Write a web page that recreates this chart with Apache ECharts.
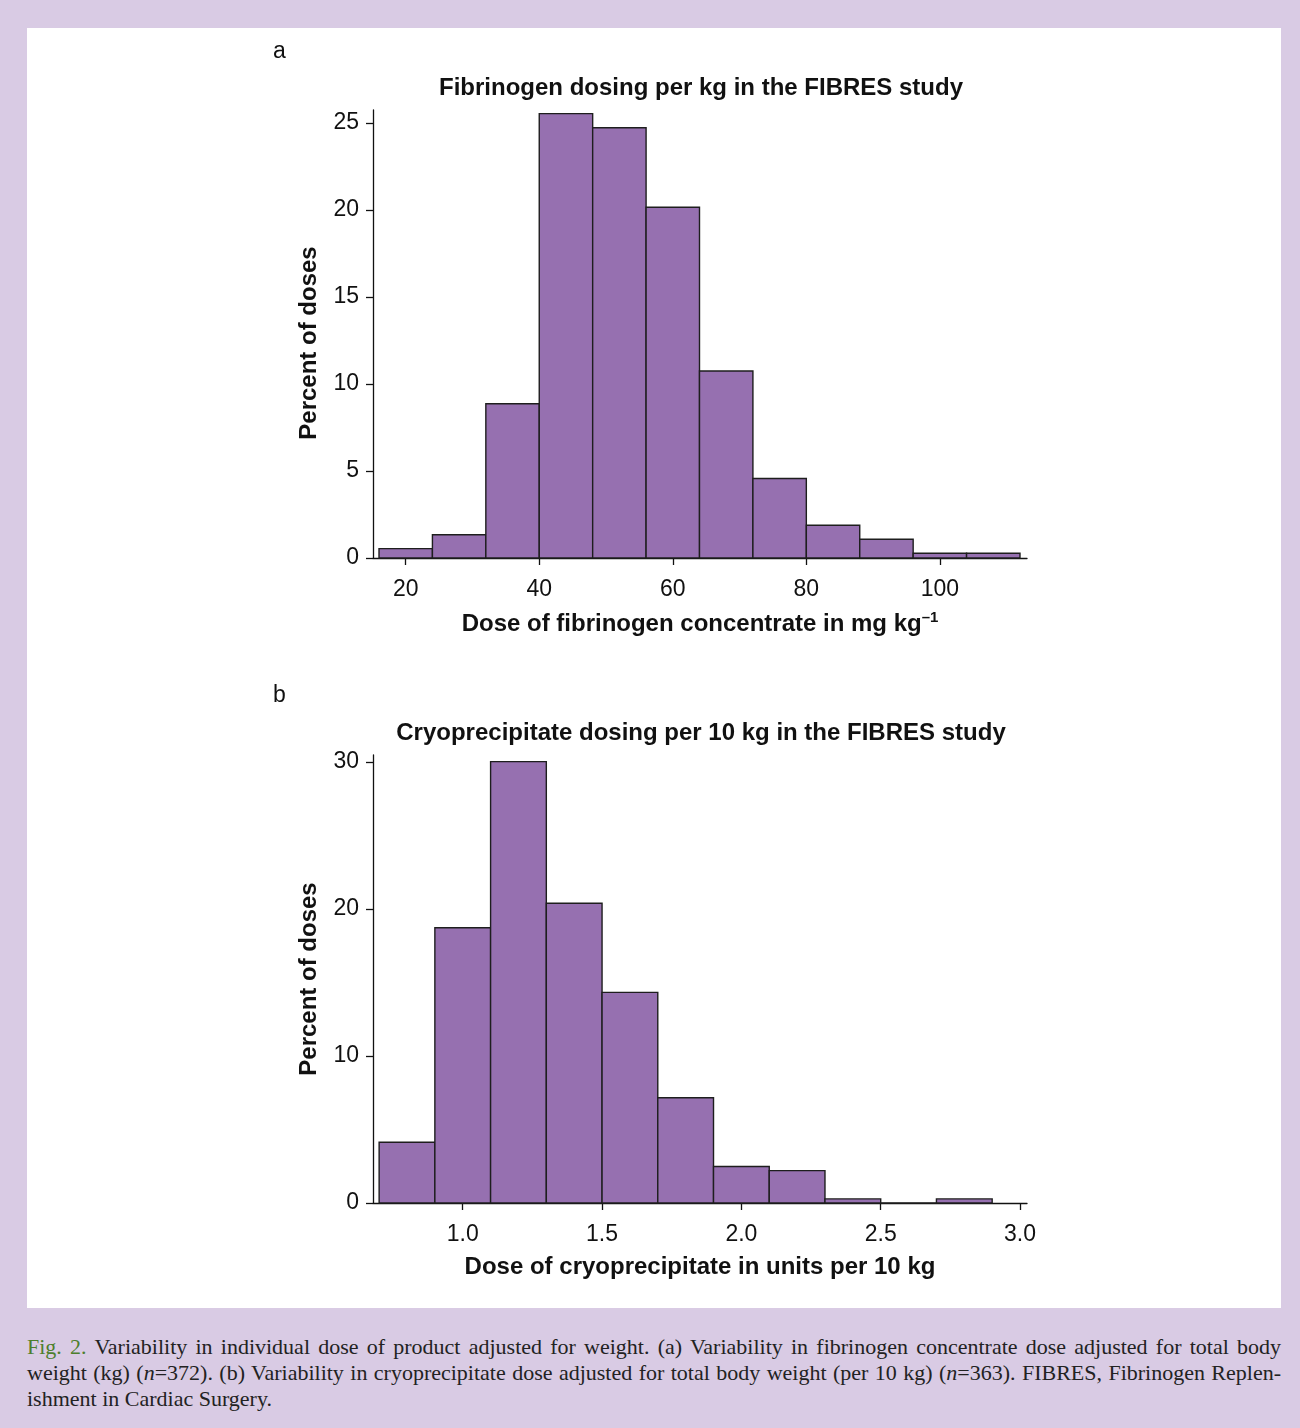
<!DOCTYPE html>
<html>
<head>
<meta charset="utf-8">
<script src="https://cdn.jsdelivr.net/npm/echarts@6/dist/echarts.min.js"></script>
<style>
  html, body { margin: 0; padding: 0; }
  body { width: 1300px; height: 1428px; background: #d9cbe4; position: relative; overflow: hidden; }
  #panel { position: absolute; left: 27px; top: 28px; width: 1254px; height: 1280px; background: #fff; }
  #main { position: absolute; left: 0; top: 0; width: 1300px; height: 1310px; }
  #caption { position: absolute; left: 27px; top: 1334px; width: 1254px;
    font-family: "Liberation Serif", serif; font-size: 22px; line-height: 26px; color: #222; }
  #caption div { text-align: justify; text-align-last: justify; white-space: nowrap; }
  #caption div.last { text-align-last: left; }
  #caption .fig { color: #4d7f2c; }
</style>
</head>
<body>
<div id="panel"></div>
<div id="main"></div>
<div id="caption">
  <div><span class="fig">Fig. 2.</span> Variability in individual dose of product adjusted for weight. (a) Variability in fibrinogen concentrate dose adjusted for total body</div>
  <div>weight (kg) (<i>n</i>=372). (b) Variability in cryoprecipitate dose adjusted for total body weight (per 10 kg) (<i>n</i>=363). FIBRES, Fibrinogen Replen-</div>
  <div class="last">ishment in Cardiac Surgery.</div>
</div>
<script>
// panel a: fibrinogen, bins of 8 mg/kg
const edgesA = [16, 24, 32, 40, 48, 56, 64, 72, 80, 88, 96, 104, 112]
const pctA = [0.54, 1.34, 8.87, 25.54, 24.73, 20.16, 10.75, 4.57, 1.88, 1.08, 0.27, 0.27]
const xTicksA = [20, 40, 60, 80, 100]
const yTicksA = [0, 5, 10, 15, 20, 25]

// panel b: cryoprecipitate, bins of 0.2 units / 10 kg
const edgesB = [0.7, 0.9, 1.1, 1.3, 1.5, 1.7, 1.9, 2.1, 2.3, 2.5, 2.7, 2.9]
const pctB = [4.13, 18.73, 30.03, 20.39, 14.33, 7.16, 2.48, 2.2, 0.28, 0, 0.28]
const xTicksB = [1.0, 1.5, 2.0, 2.5, 3.0]
const yTicksB = [0, 10, 20, 30]

const FONT = '"Liberation Sans", Arial, sans-serif'
const INK = '#111'

function toBins(edges, pct) {
  return pct.map((p, i) => [edges[i], edges[i + 1], p])
}

function histItem(params, api) {
  const a = api.coord([api.value(0), api.value(2)])
  const b = api.coord([api.value(1), 0])
  return {
    type: 'rect',
    shape: { x: a[0], y: a[1], width: b[0] - a[0], height: b[1] - a[1] },
    style: { fill: '#9670b0', stroke: '#1e1e1e', lineWidth: 1.4 }
  }
}

function xAxisOf(idx, min, max, ticks, name, fmt) {
  return {
    type: 'value', gridIndex: idx, min: min, max: max,
    name: name, nameLocation: 'middle', nameGap: 52, nameMoveOverlap: false,
    nameTextStyle: {
      fontFamily: FONT, fontSize: 24, fontWeight: 'bold', color: INK,
      rich: { sup: { fontFamily: FONT, fontSize: 15, fontWeight: 'bold', color: INK, verticalAlign: 'top', padding: [0, 0, 14, 0] } }
    },
    axisLine: { show: true, onZero: false, lineStyle: { color: INK, width: 1.3 } },
    axisTick: { show: true, length: 7, customValues: ticks, lineStyle: { color: INK, width: 1.3 } },
    axisLabel: { customValues: ticks, margin: 20, fontFamily: FONT, fontSize: 23, color: INK, formatter: fmt },
    splitLine: { show: false }
  }
}

function yAxisOf(idx, max, ticks, shift) {
  return {
    type: 'value', gridIndex: idx, min: 0, max: max,
    name: 'Percent of doses', nameLocation: 'middle', nameGap: 52, nameMoveOverlap: false,
    nameTextStyle: { fontFamily: FONT, fontSize: 24, fontWeight: 'bold', color: INK, padding: [0, shift, 0, 0] },
    axisLine: { show: true, lineStyle: { color: INK, width: 1.3 } },
    axisTick: { show: true, length: 7, customValues: ticks, lineStyle: { color: INK, width: 1.3 } },
    axisLabel: { customValues: ticks, margin: 14, fontFamily: FONT, fontSize: 23, color: INK },
    splitLine: { show: false }
  }
}

const chart = echarts.init(document.getElementById('main'), null, { renderer: 'canvas' })

chart.setOption({
  animation: false,
  backgroundColor: 'transparent',
  title: [
    { text: 'a', left: 268, top: 35, textStyle: { fontFamily: FONT, fontSize: 23, fontWeight: 'normal', color: INK } },
    { text: 'Fibrinogen dosing per kg in the FIBRES study', left: 696, top: 71, textAlign: 'center',
      textStyle: { fontFamily: FONT, fontSize: 24, fontWeight: 'bold', color: INK } },
    { text: 'b', left: 268, top: 679, textStyle: { fontFamily: FONT, fontSize: 23, fontWeight: 'normal', color: INK } },
    { text: 'Cryoprecipitate dosing per 10 kg in the FIBRES study', left: 696, top: 716, textAlign: 'center',
      textStyle: { fontFamily: FONT, fontSize: 24, fontWeight: 'bold', color: INK } }
  ],
  grid: [
    { left: 373, top: 110, width: 654, height: 448, containLabel: false, outerBoundsMode: 'none' },
    { left: 373, top: 755, width: 654, height: 448, containLabel: false, outerBoundsMode: 'none' }
  ],
  xAxis: [
    xAxisOf(0, 15.1, 113.05, xTicksA, 'Dose of fibrinogen concentrate in mg kg{sup|–1}', v => String(v)),
    xAxisOf(1, 0.678, 3.025, xTicksB, 'Dose of cryoprecipitate in units per 10 kg', v => v.toFixed(1))
  ],
  yAxis: [
    yAxisOf(0, 25.75, yTicksA, 18),
    yAxisOf(1, 30.48, yTicksB, 0)
  ],
  series: [
    { type: 'custom', xAxisIndex: 0, yAxisIndex: 0, renderItem: histItem,
      encode: { x: [0, 1], y: 2 }, data: toBins(edgesA, pctA) },
    { type: 'custom', xAxisIndex: 1, yAxisIndex: 1, renderItem: histItem,
      encode: { x: [0, 1], y: 2 }, data: toBins(edgesB, pctB) }
  ]
})
</script>
</body>
</html>
